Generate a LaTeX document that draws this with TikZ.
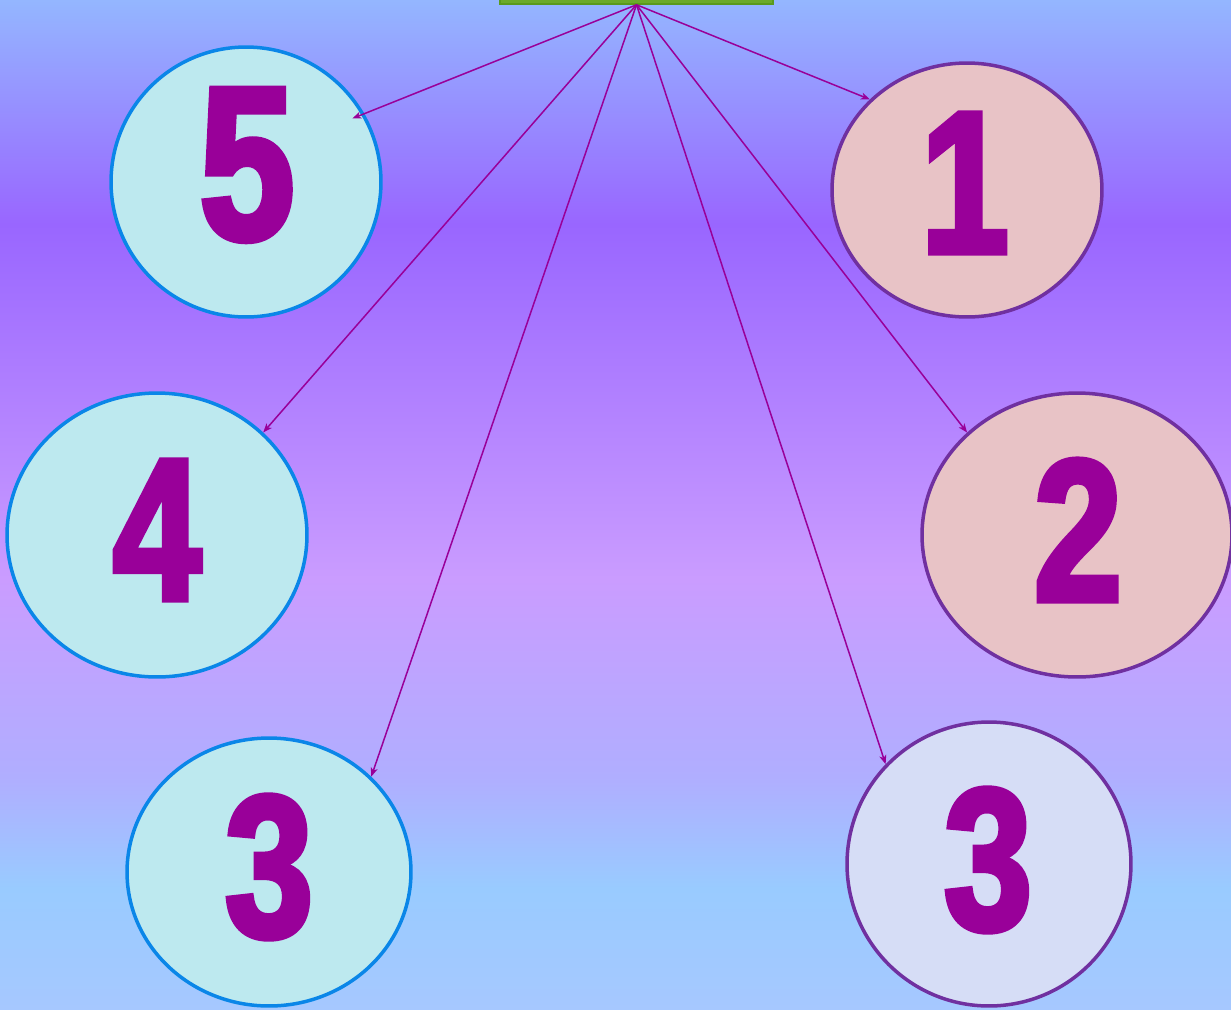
\documentclass[tikz,border=0pt]{standalone}
\usepackage{fontspec}
\usetikzlibrary{shapes.geometric,arrows.meta}
\newfontfamily\digitfont[FakeStretch=0.78,FakeBold=3]{Liberation Sans Bold}

\definecolor{bgtop}{HTML}{94B6FF}
\definecolor{bgviolet}{HTML}{9966FF}
\definecolor{bgpink}{HTML}{CA9CFF}
\definecolor{bghaze}{HTML}{B0AEFF}
\definecolor{bglight}{HTML}{99CBFF}
\definecolor{bgbot}{HTML}{A6C8FF}
\definecolor{numpurple}{HTML}{990099}
\definecolor{dropblue}{HTML}{0A86E8}
\definecolor{dropfill}{HTML}{BDE9EF}
\definecolor{rimpurple}{HTML}{7030A0}
\definecolor{rosefill}{HTML}{E8C3C6}
\definecolor{lilacfill}{HTML}{D6DDF6}
\definecolor{barfill}{HTML}{6BAA2A}
\definecolor{barrim}{HTML}{5A9A1C}

\pgfdeclareverticalshading{backdrop}{100bp}{color(0bp)=(bgbot); color(25bp)=(bgbot);
  color(31bp)=(bglight); color(36.5bp)=(bghaze); color(46.3bp)=(bgpink);
  color(63.9bp)=(bgviolet); color(75bp)=(bgtop); color(100bp)=(bgtop)}

\begin{document}
\begin{tikzpicture}[x=0.02cm,y=-0.02cm,
    ring/.style={ellipse,line width=0.07cm,inner sep=0pt},
    water/.style={ring,draw=dropblue,fill=dropfill},
    rosy/.style={ring,draw=rimpurple,fill=rosefill},
    lilac/.style={ring,draw=rimpurple,fill=lilacfill},
    digit/.style={text=numpurple,inner sep=0pt,font=\digitfont\fontsize{115}{115}\selectfont},
    arr/.style={-{Stealth[length=0.18cm,width=0.14cm,inset=0.05cm]},draw=numpurple,line width=0.03cm}]
    \useasboundingbox (0,0) rectangle (1231,1009);
    \shade[shading=backdrop] (0,0) rectangle (1231,1009);

    \node[draw=barrim, fill=barfill, line width=0.03cm, minimum width=5.46cm,
          minimum height=0.16cm, inner sep=0pt] (bar) at (636.5,0) {};

    % left column
    \node[water, minimum width=5.4cm, minimum height=5.4cm] (c5) at (246,182) {};
    \node[water, minimum width=6cm, minimum height=5.68cm] (c4) at (157,535) {};
    \node[water, minimum width=5.68cm, minimum height=5.36cm] (c3a) at (269,872) {};
    % right column
    \node[rosy, minimum width=5.4cm, minimum height=5.08cm] (c1) at (967,190) {};
    \node[rosy, minimum width=6.2cm, minimum height=5.68cm] (c2) at (1077,535) {};
    \node[lilac, minimum width=5.68cm, minimum height=5.68cm] (c3b) at (989,864) {};

    \node[digit, font=\digitfont\fontsize{124}{124}\selectfont] (n5) at (247,165) {5};
    \node[digit] (n4) at (157,530) {4};
    \node[digit] (n3a) at (269,867) {3};
    \node[digit] (n1) at (965,183) {1};
    \node[digit] (n2) at (1078,530) {2};
    \node[digit] (n3b) at (988,860) {3};

    \draw[arr, shorten >=-0.26cm] (bar.south) -- (c5.30);
    \draw[arr] (bar.south) -- (c4.44);
    \draw[arr] (bar.south) -- (c3a.43);
    \draw[arr] (bar.south) -- (c1.137);
    \draw[arr] (bar.south) -- (c2.137);
    \draw[arr] (bar.south) -- (c3b.136);
\end{tikzpicture}
\end{document}
